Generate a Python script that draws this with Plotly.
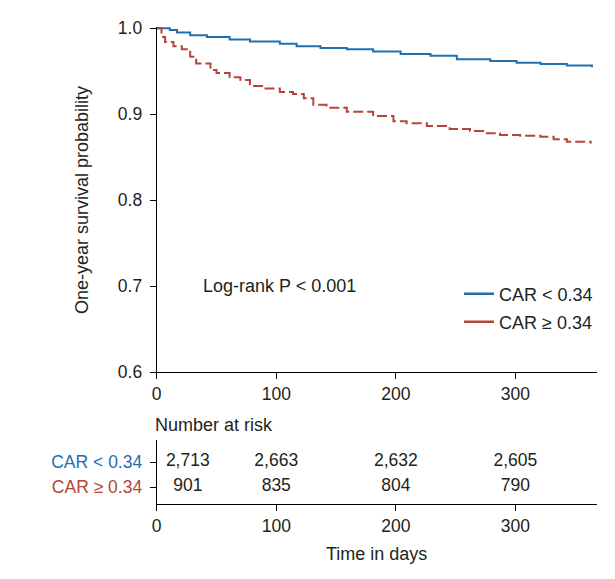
import plotly.graph_objects as go

# ---- data ----
blue_days = [0, 11, 17, 28, 42, 61, 78, 103, 117, 137, 159, 181, 204, 229, 251, 279, 301, 321, 343, 364]
blue_surv = [1.0, 0.998, 0.995, 0.992, 0.990, 0.987, 0.9845, 0.982, 0.979, 0.977, 0.9756, 0.973,
             0.970, 0.968, 0.964, 0.962, 0.960, 0.9585, 0.9566, 0.9547]

red_days = [0, 4, 7, 14, 21, 28, 33, 45, 50, 61, 70, 78, 89, 103, 114, 123, 131, 142, 159,
            181, 198, 209, 226, 245, 262, 273, 287, 304, 321, 332, 343, 363]
red_surv = [1.0, 0.990, 0.984, 0.979, 0.9756, 0.967, 0.959, 0.9515, 0.948, 0.943, 0.940, 0.933,
            0.930, 0.926, 0.9236, 0.9186, 0.911, 0.9077, 0.903, 0.898, 0.892, 0.8895, 0.8864,
            0.883, 0.8806, 0.878, 0.876, 0.875, 0.874, 0.871, 0.868, 0.866]

group_labels = ["CAR < 0.34", "CAR \u2265 0.34"]
risk_times = [26, 100, 200, 300]
risk_low = ["2,713", "2,663", "2,632", "2,605"]
risk_high = ["901", "835", "804", "790"]
x_ticks = [0, 100, 200, 300]
y_ticks = [0.6, 0.7, 0.8, 0.9, 1.0]

BLUE = "#1f6fae"
RED = "#b5443a"
TXT = "#231f20"
FONT = "Liberation Sans, Arial, sans-serif"
FS = 17.5   # tick labels / table numbers
FA = 18     # titles and annotations

# page body has an 8px margin; size the figure so it fits the 615x579 window
OFF = 8
W, H = 615 - 2 * OFF, 579 - 2 * OFF
def px_x(p):
    return (p - OFF) / W
def px_y(p):
    return 1 - (p - OFF) / H

fig = go.Figure()

fig.add_trace(go.Scatter(x=blue_days, y=blue_surv, mode="lines", line=dict(color=BLUE, width=2, shape="hv"),
                         showlegend=False, xaxis="x", yaxis="y"))
fig.add_trace(go.Scatter(x=red_days, y=red_surv, mode="lines",
                         line=dict(color=RED, width=2, shape="hv", dash="10px,4px"),
                         showlegend=False, xaxis="x", yaxis="y"))

# legend entries (solid sample lines as in the reference)
fig.add_trace(go.Scatter(x=[None], y=[None], mode="lines", line=dict(color=BLUE, width=2.5),
                         name=group_labels[0], legend="legend", xaxis="x", yaxis="y"))
fig.add_trace(go.Scatter(x=[None], y=[None], mode="lines", line=dict(color=RED, width=2.5),
                         name=group_labels[1], legend="legend2", xaxis="x", yaxis="y"))

# number-at-risk table
fig.add_trace(go.Scatter(x=risk_times, y=[2] * len(risk_times), mode="text", text=risk_low,
                         textfont=dict(family=FONT, size=FS, color=TXT), showlegend=False,
                         xaxis="x2", yaxis="y2", cliponaxis=False))
fig.add_trace(go.Scatter(x=risk_times, y=[1] * len(risk_times), mode="text", text=risk_high,
                         textfont=dict(family=FONT, size=FS, color=TXT), showlegend=False,
                         xaxis="x2", yaxis="y2", cliponaxis=False))

xdom = [px_x(156.7), px_x(596.7)]
axis_common = dict(showline=True, linecolor="black", linewidth=1, ticks="outside", ticklen=6,
                   tickcolor="black", showgrid=False, zeroline=False, automargin=False,
                   tickfont=dict(family=FONT, size=FS, color=TXT))

fig.update_layout(
    template="none",
    width=W, height=H, margin=dict(l=0, r=0, t=0, b=0, autoexpand=False),
    paper_bgcolor="white", plot_bgcolor="white",
    font=dict(family=FONT, size=FS, color=TXT),
    xaxis=dict(domain=xdom, range=[0, 368], tickvals=x_ticks, anchor="y", **axis_common),
    yaxis=dict(domain=[px_y(372.3), px_y(28.3 - 1.3)], range=[0.6, 1.0015], tickvals=y_ticks,
               tickformat=".1f", anchor="x", ticklabelstandoff=4, **axis_common),
    xaxis2=dict(domain=xdom, range=[0, 368], tickvals=x_ticks, anchor="y2",
                title=dict(text="Time in days", font=dict(family=FONT, size=FA, color=TXT), standoff=12),
                **axis_common),
    yaxis2=dict(domain=[px_y(504), px_y(440)], range=[0.32, 2.88], tickvals=[2, 1],
                ticktext=[f"<span style='color:{BLUE}'>{group_labels[0]}</span>",
                          f"<span style='color:{RED}'>{group_labels[1]}</span>"],
                anchor="x2", ticklabelstandoff=4, **axis_common),
    legend=dict(x=px_x(459), y=px_y(294), xanchor="left", yanchor="middle",
                bgcolor="rgba(0,0,0,0)", font=dict(family=FONT, size=FA, color=TXT)),
    legend2=dict(x=px_x(459), y=px_y(322), xanchor="left", yanchor="middle",
                 bgcolor="rgba(0,0,0,0)", font=dict(family=FONT, size=FA, color=TXT)),
    annotations=[
        dict(text="Log-rank P < 0.001", x=37, y=0.7, xref="x", yref="y", xanchor="left",
             yanchor="middle", showarrow=False, font=dict(family=FONT, size=FA, color=TXT)),
        dict(text="Number at risk", x=px_x(152.7), y=px_y(425), xref="paper", yref="paper",
             xanchor="left", yanchor="middle", showarrow=False,
             font=dict(family=FONT, size=FA, color=TXT)),
        dict(text="One-year survival probability", x=px_x(82), y=px_y(200), xref="paper",
             yref="paper", xanchor="center", yanchor="middle", textangle=-90, showarrow=False,
             font=dict(family=FONT, size=FA, color=TXT)),
    ],
)

fig.write_html("out.html")
